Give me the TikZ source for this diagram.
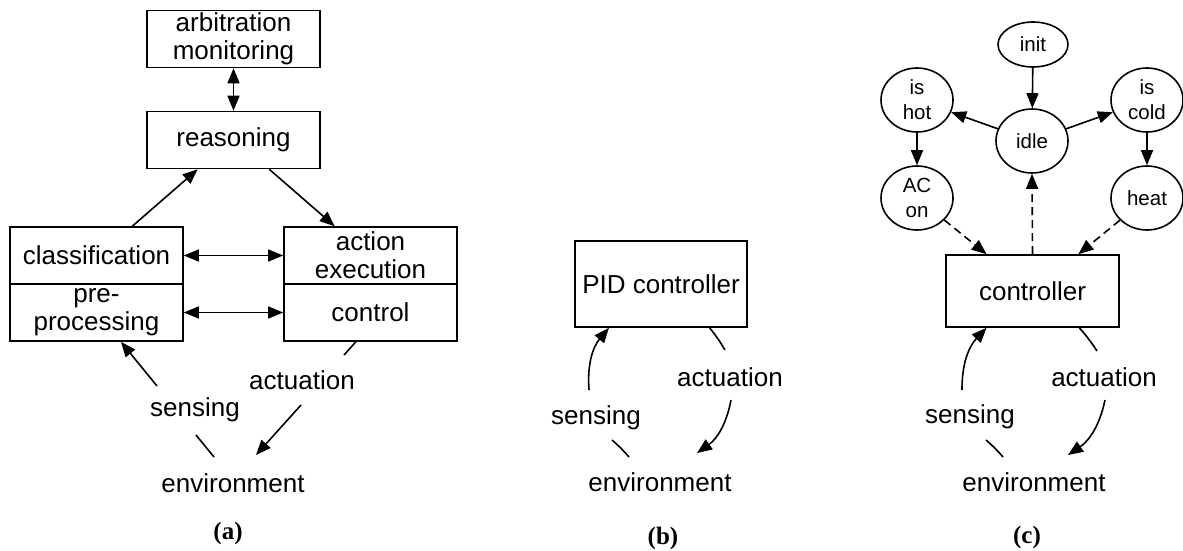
\documentclass[tikz,border=0pt]{standalone}
\usepackage{fontspec}
\setmainfont{Liberation Sans}
\newfontfamily\capfont{Liberation Serif}
\usetikzlibrary{arrows.meta,shapes.geometric,calc}
\tikzset{
  box/.style={draw,line width=1.6pt,minimum width=173pt,minimum height=57pt,inner sep=0pt,align=center,font=\fontsize{26}{28}\selectfont},
  st/.style={draw,ellipse,line width=1.6pt,minimum width=72pt,minimum height=64pt,inner sep=0pt,align=center,font=\fontsize{20.5}{25}\selectfont},
  lbl/.style={inner sep=0pt,font=\fontsize{26}{28}\selectfont},
  captext/.style={inner sep=0pt,font=\capfont\bfseries\fontsize{25}{28}\selectfont},
  ln/.style={line width=1.6pt},
  arr/.style={line width=1.6pt,-{Triangle[length=15pt,width=12pt]}},
  darr/.style={line width=1.6pt,{Triangle[length=15pt,width=12pt]}-{Triangle[length=15pt,width=12pt]}},
  dasharr/.style={arr,dash pattern=on 8pt off 5pt},
}
\begin{document}
\begin{tikzpicture}[x=1pt,y=-1pt]
\useasboundingbox (0,0) rectangle (1183,551);
% ---------- (a)
\node[box] (arb) at (233.5,39) {arbitration\\monitoring};
\node[box] (rsn) at (233.5,140) {reasoning};
\node[box] (cls) at (96.5,255.5) {classification};
\node[box] (pre) at (96.5,312.5) {pre-\\processing};
\node[box] (act) at (370.5,255.5) {action\\execution};
\node[box] (ctl) at (370.5,312.5) {control};
\draw[darr] (arb.south) -- (rsn.north);
\draw[arr] ($(cls.north west)!0.705!(cls.north east)$) -- ($(rsn.south west)!0.295!(rsn.south east)$);
\draw[arr] ($(rsn.south west)!0.705!(rsn.south east)$) -- ($(act.north west)!0.295!(act.north east)$);
\draw[darr] (cls.east) -- (act.west);
\draw[darr] (pre.east) -- (ctl.west);
\node[lbl] (asen) at (195,410) {sensing};
\node[lbl] (aact) at (302,380) {actuation};
\node[lbl] (aenv) at (233,483) {environment};
\node[captext] (acap) at (228,533) {(a)};
\coordinate (as1) at (157,386);
\coordinate (as2) at (196,435);
\coordinate (as3) at (214,457);
\draw[arr] (as1) -- ($(pre.south west)!0.64!(pre.south east)$);
\draw[ln] (as2) -- (as3);
\coordinate (aa1) at (344,355);
\coordinate (aa2) at (301,405);
\coordinate (aa3) at (256,455);
\draw[ln] ($(ctl.south west)!0.416!(ctl.south east)$) -- (aa1);
\draw[arr] (aa2) -- (aa3);
% ---------- (b)
\node[box,minimum height=86pt,minimum width=172pt] (pid) at (661,284) {PID controller};
\node[lbl] (bsen) at (596,418) {sensing};
\node[lbl] (bact) at (730,377) {actuation};
\node[lbl] (benv) at (660,482) {environment};
\node[captext] (bcap) at (663,538) {(b)};
\coordinate (bs1) at (589,390);
\coordinate (bs2) at (612,440);
\coordinate (bs3) at (629,457);
\draw[arr] (bs1) to[bend left=22] ($(pid.south west)!0.2!(pid.south east)$);
\draw[ln] (bs2) to[bend left=4] (bs3);
\coordinate (ba1) at (725,350);
\coordinate (ba2) at (731,400);
\coordinate (ba3) at (697,453);
\draw[ln] ($(pid.south west)!0.78!(pid.south east)$) to[bend left=4] (ba1);
\draw[arr] (ba2) to[bend left=22] (ba3);
% ---------- (c)
\node[st,minimum height=45pt,minimum width=70pt] (init) at (1033,44.5) {init};
\node[st] (idle) at (1032,141) {idle};
\node[st] (ishot) at (917,100) {is\\hot};
\node[st] (iscold) at (1147,100) {is\\cold};
\node[st] (acon) at (917,198) {AC\\on};
\node[st] (heat) at (1147,198) {heat};
\node[box,minimum height=72pt] (ctr) at (1032.5,291) {controller};
\draw[arr] (init) -- (idle);
\draw[arr] (idle) -- (ishot);
\draw[arr] (idle) -- (iscold);
\draw[arr] (ishot) -- (acon);
\draw[arr] (iscold) -- (heat);
\draw[dasharr] (acon) -- ($(ctr.north west)!0.237!(ctr.north east)$);
\draw[dasharr] (heat) -- ($(ctr.north west)!0.763!(ctr.north east)$);
\draw[dasharr] (ctr.north) -- (idle.south);
\node[lbl] (csen) at (970,417) {sensing};
\node[lbl] (cact) at (1104,377) {actuation};
\node[lbl] (cenv) at (1034,482) {environment};
\node[captext] (ccap) at (1027,537) {(c)};
\coordinate (cs1) at (962,390);
\coordinate (cs2) at (986,440);
\coordinate (cs3) at (1003,457);
\draw[arr] (cs1) to[bend left=22] ($(ctr.south west)!0.237!(ctr.south east)$);
\draw[ln] (cs2) to[bend left=4] (cs3);
\coordinate (ca1) at (1097,351);
\coordinate (ca2) at (1105,400);
\coordinate (ca3) at (1068,455);
\draw[ln] ($(ctr.south west)!0.768!(ctr.south east)$) to[bend left=4] (ca1);
\draw[arr] (ca2) to[bend left=22] (ca3);
\end{tikzpicture}
\end{document}
